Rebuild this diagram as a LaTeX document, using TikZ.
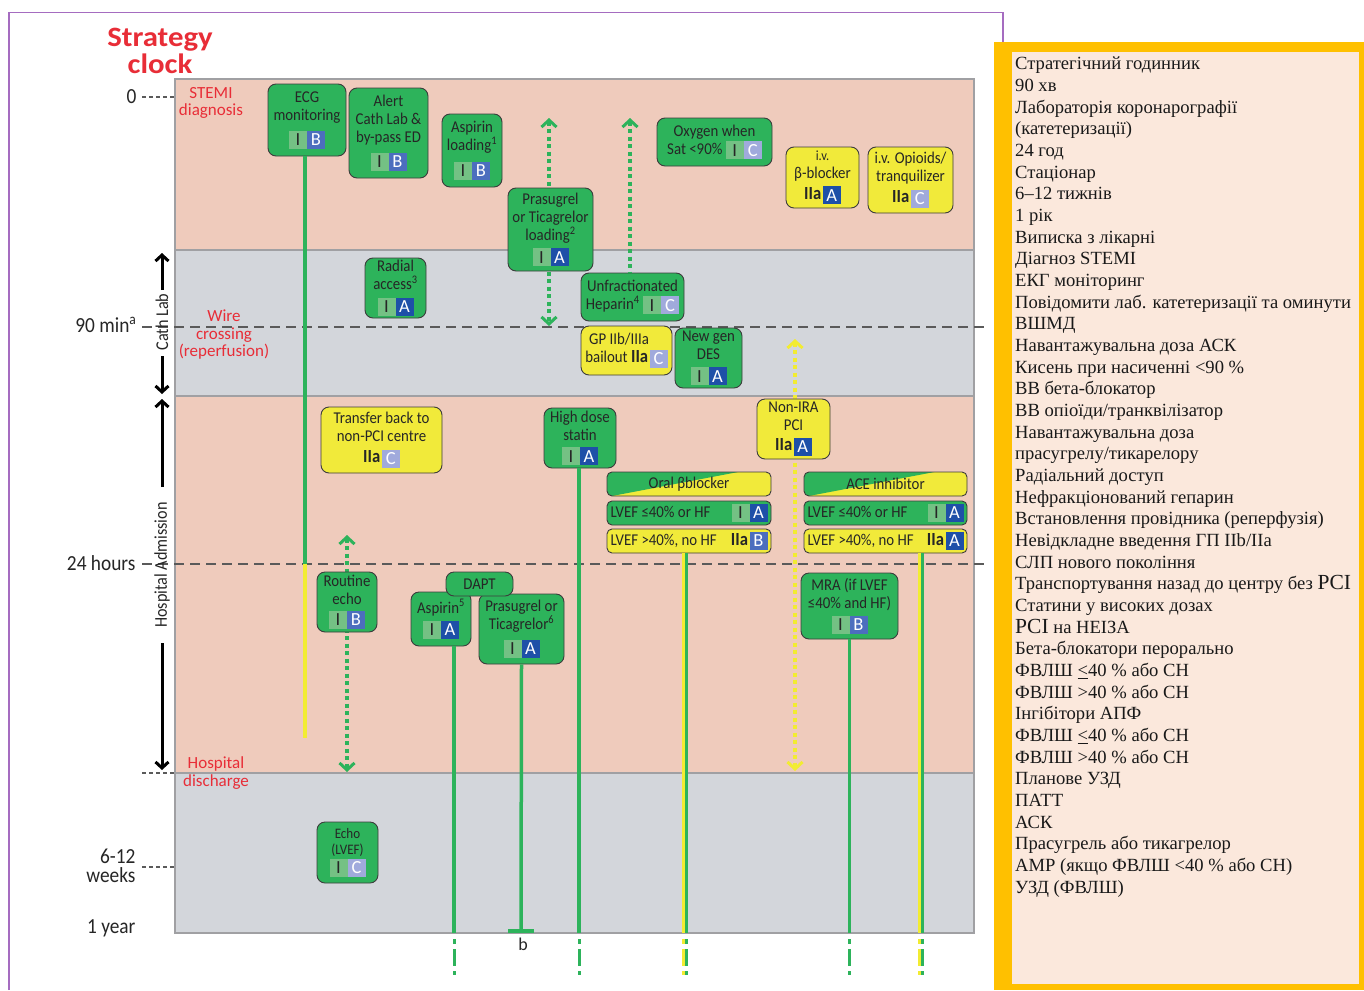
\documentclass[tikz,border=0pt]{standalone}
\usepackage{fontspec}
\setmainfont{Carlito}
\newfontfamily\condf{Carlito}[FakeStretch=0.9]
\newfontfamily\titlef{Carlito}[FakeStretch=1.1]
\newfontfamily\serifua{Liberation Serif}
\usetikzlibrary{arrows.meta,calc}
\definecolor{pinkband}{RGB}{239,203,188}
\definecolor{grayband}{RGB}{211,214,219}
\definecolor{bandline}{RGB}{160,160,163}
\definecolor{cgreen}{RGB}{45,179,91}
\definecolor{cyellow}{RGB}{241,234,58}
\definecolor{boxline}{RGB}{60,60,60}
\definecolor{lvI}{RGB}{116,193,132}
\definecolor{lvA}{RGB}{30,80,168}
\definecolor{lvB}{RGB}{76,110,190}
\definecolor{lvC}{RGB}{160,170,220}
\definecolor{cred}{RGB}{232,45,55}
\definecolor{cpurple}{RGB}{165,108,192}
\definecolor{corange}{RGB}{255,192,0}
\definecolor{cpanel}{RGB}{251,232,220}
\definecolor{dashgray}{RGB}{90,90,90}
\definecolor{lyellow}{RGB}{242,236,50}
\newcommand\sqb[3]{{\setlength\fboxsep{0pt}\colorbox{#1}{\parbox[c][18pt][c]{18pt}{\centering\normalfont\fontsize{18.5}{18.5}\selectfont\color{#2}#3}}}}
\newcommand\cI{\sqb{lvI}{black!85}{I}}
\newcommand\lA{\sqb{lvA}{white}{A}}
\newcommand\lB{\sqb{lvB}{white}{B}}
\newcommand\lC{\sqb{lvC}{white}{C}}
\newcommand\IIa{{\condf\bfseries\fontsize{18.5}{18.5}\selectfont IIa}\kern1.5pt}
\newcommand\stbox[7]{\node[#2,minimum width={(#5)-(#3)},minimum height={(#6)-(#4)}] (#1) at ({((#3)+(#5))/2},{((#4)+(#6))/2}) {#7};}
\begin{document}
\begin{tikzpicture}[x=1pt,y=-1pt,
 gbox/.style={draw=boxline,line width=0.9pt,fill=cgreen,rounded corners=8pt,inner sep=0pt,align=center,font=\condf\fontsize{16.5}{18}\selectfont,text=black!85},
 ybox/.style={gbox,fill=cyellow},
 rbox/.style={gbox,rounded corners=5pt},
 rybox/.style={rbox,fill=cyellow},
 hdr/.style={rbox,fill=cyellow,path picture={\fill[cgreen,draw=none,sharp corners] (path picture bounding box.north west) -- ($(path picture bounding box.north west)!0.8!(path picture bounding box.north east)$) -- ($(path picture bounding box.south west)!0.03!(path picture bounding box.south east)$) -- (path picture bounding box.south west) -- cycle;}},
 band/.style={draw=bandline,line width=1.5pt},
 gline/.style={draw=cgreen,line width=3.5pt},
 gthin/.style={draw=cgreen,line width=3pt},
 ythin/.style={draw=lyellow,line width=3pt},
 yline/.style={draw=lyellow,line width=3.5pt},
 gdot/.style={draw=cgreen,line width=4pt,dash pattern=on 4pt off 3.5pt},
 ydot/.style={draw=lyellow,line width=4pt,dash pattern=on 4pt off 3.5pt},
 longdash/.style={draw=dashgray,line width=1.3pt,dash pattern=on 10pt off 6pt},
 tickdash/.style={draw=dashgray,line width=1.3pt,dash pattern=on 4pt off 3pt},
 axarrow/.style={draw=black,line width=3pt,-{Straight Barb[length=6pt,width=13pt,line width=3pt]}},
 redlbl/.style={text=cred,align=center,font=\fontsize{17}{17.5}\selectfont},
 axlbl/.style={anchor=east,align=right,font=\condf\fontsize{21.5}{19}\selectfont,text=black!85},
 rotlbl/.style={rotate=90,font=\condf\fontsize{18}{18}\selectfont,text=black!85},
]
\def\chev{Straight Barb[length=7pt,width=15pt,line width=3pt]}
\useasboundingbox (0,0) rectangle (1364,990);
\fill[white] (0,0) rectangle (1364,990);
% purple frame
\draw[cpurple,line width=1.6pt] (9,990) -- (9,12.5) -- (1003,12.5) -- (1003,48);
% orange panel
\fill[corange] (994,42) rectangle (1364,990);
\fill[cpanel] (1012,52) rectangle (1359,984);
\node[anchor=north west,align=left,inner sep=0pt,font=\serifua\fontsize{18.6}{21.66}\selectfont,text=black!90] (legend) at (1015,57) {%
Стратегічний годинник\\
90 хв\\
Лабораторія коронарографії\\
(катетеризації)\\
24 год\\
Стаціонар\\
6–12 тижнів\\
1 рік\\
Виписка з лікарні\\
Діагноз STEMI\\
ЕКГ моніторинг\\
Повідомити лаб. катетеризації та оминути\\
ВШМД\\
Навантажувальна доза АСК\\
Кисень при насиченні <90 \%\\
ВВ бета-блокатор\\
ВВ опіоїди/транквілізатор\\
Навантажувальна доза\\
прасугрелу/тикарелору\\
Радіальний доступ\\
Нефракціонований гепарин\\
Встановлення провідника (реперфузія)\\
Невідкладне введення ГП IIb/IIa\\
СЛП нового покоління\\
Транспортування назад до центру без {\fontsize{21.5}{21.66}\selectfont PCI}\\
Статини у високих дозах\\
{\fontsize{21.5}{21.66}\selectfont PCI} на НЕІЗА\\
Бета-блокатори перорально\\
ФВЛШ \underline{<}40 \% або СН\\
ФВЛШ >40 \% або СН\\
Інгібітори АПФ\\
ФВЛШ \underline{<}40 \% або СН\\
ФВЛШ >40 \% або СН\\
Планове УЗД\\
ПАТТ\\
АСК\\
Прасугрель або тикагрелор\\
АМР (якщо ФВЛШ <40 \% або СН)\\
УЗД (ФВЛШ)};
% bands
\draw[band,fill=pinkband] (175,79) rectangle (974,250);
\draw[band,fill=grayband] (175,250) rectangle (974,396);
\draw[band,fill=pinkband] (175,396) rectangle (974,773);
\draw[band,fill=grayband] (175,773) rectangle (974,933);
% title
\node[text=cred,align=center,font=\titlef\bfseries\fontsize{28}{26.5}\selectfont] (title) at (160,51) {Strategy\\clock};
% axis labels and ticks
\node[axlbl] (t0) at (140,97) {0};
\node[axlbl] (t90) at (140,325) {90 min\textsuperscript{a}};
\node[axlbl] (t24) at (139,563) {24 hours};
\node[axlbl] (t612) at (139,866) {6-12\\weeks};
\node[axlbl] (t1y) at (139,928) {1 year};
\draw[tickdash] (142,97) -- (175,97);
\draw[longdash] (142,327) -- (986,327);
\draw[longdash] (142,564) -- (986,564);
\draw[tickdash] (142,773) -- (175,773);
\draw[tickdash] (142,867) -- (175,867);
% left arrows
\draw[axarrow] (162,290) -- (162,253);
\draw[axarrow] (162,356) -- (162,394);
\node[rotlbl] (cath) at (162,322) {Cath Lab};
\draw[axarrow] (162,487) -- (162,399);
\draw[axarrow] (162,643) -- (162,770);
\node[rotlbl] (hadm) at (162,565) {Hospital Admission};
% red labels
\node[redlbl] (stemi) at (211,103) {STEMI\\diagnosis};
\node[redlbl] (wire) at (224,335) {Wire\\crossing\\(reperfusion)};
\node[redlbl] (hdis) at (216,773) {Hospital\\discharge};
% boxes
\stbox{ecg}{gbox}{268}{84}{346}{156}{ECG\\monitoring\\[6pt]\cI\lB}
\stbox{alert}{gbox}{349}{88}{428}{178}{Alert\\Cath Lab \&\\by-pass ED\\[5pt]\cI\lB}
\stbox{asp}{gbox}{442}{114}{502}{187}{Aspirin\\loading\textsuperscript{1}\\[6pt]\cI\lB}
\stbox{oxy}{gbox}{657}{118}{772}{166}{Oxygen when\\Sat <90\% \cI\lC}
\stbox{ivbb}{ybox}{786}{147}{859}{208}{{\fontsize{14}{14}\selectfont i.v.}\\β-blocker\\[3pt]\IIa\lA}
\stbox{opi}{ybox}{868}{147}{953}{213}{i.v. Opioids/\\tranquilizer\\[3pt]\IIa\lC}
\stbox{rad}{gbox}{365}{258}{426}{318}{Radial\\access\textsuperscript{3}\\[3pt]\cI\lA}
% lines and dotted arrows (behind later boxes)
\draw[gline] (305,0 |- ecg.south) -- (305,564);
\draw[yline] (305,564) -- (305,738);
\draw[gdot,{\chev}-{\chev}] (549,118) -- (549,326);
\stbox{pras}{gbox}{508}{188}{593}{271}{Prasugrel\\or Ticagrelor\\loading\textsuperscript{2}\\[3pt]\cI\lA}
\stbox{hep}{gbox}{581}{273}{684}{321}{Unfractionated\\Heparin\textsuperscript{4} \cI\lC}
\draw[gdot,{\chev}-] (630,118) -- (630,0 |- hep.north);
\stbox{gp}{ybox}{581}{326}{672}{375}{GP IIb/IIIa\hspace*{15pt}\\bailout \IIa\lC}
\stbox{des}{gbox}{675}{328}{742}{388}{New gen\\DES\\[3pt]\cI\lA}
\draw[ydot,{\chev}-{\chev}] (795,339) -- (795,771);
\draw[gdot,{\chev}-{\chev}] (347,535) -- (347,772);
\stbox{transfer}{ybox}{321}{407}{442}{473}{Transfer back to\\non-PCI centre\\[3pt]\IIa\lC}
\stbox{statin}{gbox}{544}{408}{616}{468}{High dose\\statin\\[2pt]\cI\lA}
\stbox{nonira}{ybox}{757}{399}{830}{459}{Non-IRA\\PCI\\[2pt]\IIa\lA}
\stbox{obh}{hdr}{607}{472}{771}{496}{Oral {β}blocker}
\stbox{ob1}{rbox}{607}{501}{771}{525}{\makebox[157pt]{LVEF ≤40\% or HF\hfill\cI\lA}}
\stbox{ob2}{rybox}{607}{529}{771}{553}{\makebox[157pt]{LVEF >40\%, no HF\hfill\IIa\lB}}
\stbox{aceh}{hdr}{804}{472}{967}{496}{ACE inhibitor}
\stbox{ace1}{rbox}{804}{501}{967}{525}{\makebox[156pt]{LVEF ≤40\% or HF\hfill\cI\lA}}
\stbox{ace2}{rybox}{804}{529}{967}{553}{\makebox[156pt]{LVEF >40\%, no HF\hfill\IIa\lA}}
\stbox{recho}{gbox}{317}{572}{377}{632}{Routine\\echo\\[2pt]\cI\lB}
\stbox{asp5}{gbox}{411}{592}{471}{646}{Aspirin\textsuperscript{5}\\[3pt]\cI\lA}
\stbox{pras6}{gbox}{479}{594}{564}{664}{Prasugrel or\\Ticagrelor\textsuperscript{6}\\[5pt]\cI\lA}
\stbox{dapt}{gbox}{446}{572}{513}{596}{DAPT}
\stbox{mra}{gbox}{801}{573}{898}{639}{MRA (if LVEF\\≤40\% and HF)\\[3pt]\cI\lB}
\stbox{echo}{gbox,font=\condf\fontsize{14.5}{16}\selectfont}{317}{822}{378}{883}{Echo\\(LVEF)\\[1pt]\cI\lC}
% long therapy lines
\draw[gline] (454,0 |- asp5.south) -- (454,933);
\draw[gline] (pras6.south) -- (521,931);
\draw[cgreen,line width=3.5pt] (508,931) -- (534,931);
\node[font=\fontsize{18}{18}\selectfont,text=black!85] (blbl) at (523,944) {b};
\draw[gline] (579,0 |- statin.south) -- (579,933);
\draw[ythin] (683.5,0 |- ob2.south) -- (683.5,933);
\draw[gthin] (686.5,0 |- ob2.south) -- (686.5,933);
\draw[gline] (mra.south) -- (849.5,933);
\draw[ythin] (919.5,0 |- ace2.south) -- (919.5,933);
\draw[gthin] (922.5,0 |- ace2.south) -- (922.5,933);
% continuation marks
\foreach \xx in {454,579,849.5}{
  \draw[gline,line width=3pt] (\xx,939) -- (\xx,944) (\xx,949) -- (\xx,966) (\xx,971) -- (\xx,975);
}
\foreach \xx in {683.5,919.5}{
  \draw[ythin] (\xx,939) -- (\xx,944) (\xx,949) -- (\xx,966) (\xx,971) -- (\xx,975);
  \draw[gthin] (\xx+3,939) -- (\xx+3,944) (\xx+3,949) -- (\xx+3,966) (\xx+3,971) -- (\xx+3,975);
}
\end{tikzpicture}
\end{document}
